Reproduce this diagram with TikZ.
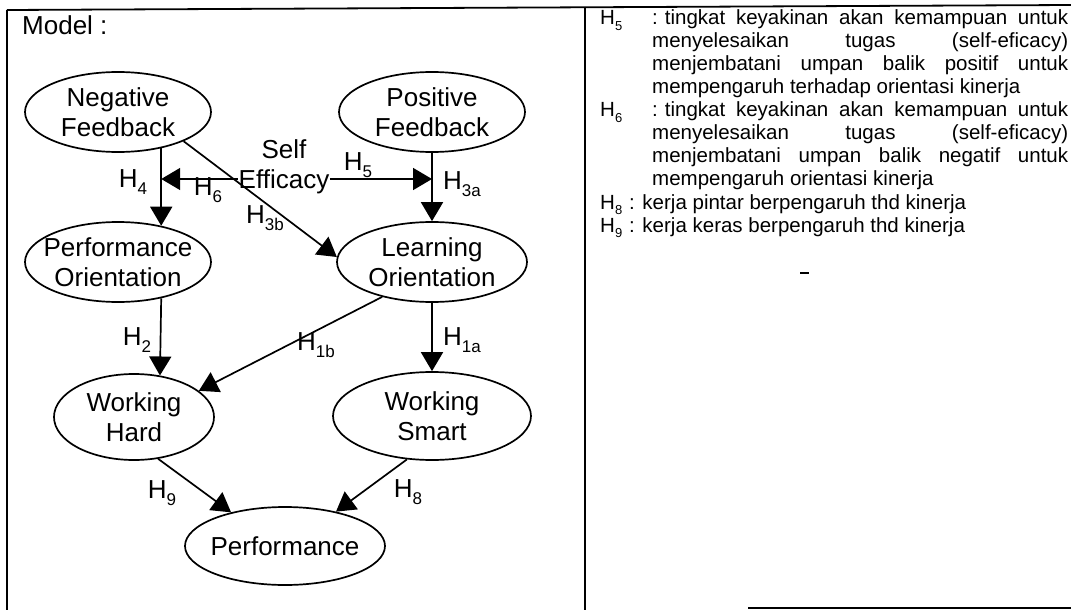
\documentclass[tikz,border=0pt]{standalone}
\usepackage{fontspec}
\setmainfont{Liberation Sans}
\usetikzlibrary{arrows.meta,shapes.geometric}
% hypothesis labels: H with a lowered index
\newcommand\hlab[1]{H\raisebox{-0.28em}{\fontsize{17}{17}\selectfont #1}}
\newcommand\hsm[1]{H\raisebox{-0.25em}{\fontsize{13}{13}\selectfont #1}}
% a justified line of the legend
\newcommand\jl[1]{\makebox[416pt][s]{#1}}
\begin{document}
\begin{tikzpicture}[x=1pt,y=-1pt,
  ell/.style={draw, ellipse, line width=1.7pt, inner sep=0pt},
  big/.style={font=\fontsize{26}{30}\selectfont, align=center, inner sep=0pt},
  hl/.style={font=\fontsize{26}{30}\selectfont, inner sep=0pt},
  arr/.style={line width=1.7pt, -{Triangle[length=19pt,width=22pt]}},
  rt/.style={font=\fontsize{20.5}{23}\selectfont, inner sep=0pt, anchor=base west},
  frame/.style={line width=1.8pt}]
\useasboundingbox (0,0) rectangle (1071,610);

% table frame
\draw[frame] (7,10) -- (1071,5);
\draw[frame] (7,10) -- (7,610);
\draw[frame, line width=2.4pt] (585,7) -- (585,610);
\draw[frame] (748,608) -- (1071,608);

\node[hl, anchor=west] (title) at (22,25) {Model :};

% constructs
\node[ell, minimum width=186pt, minimum height=80pt,
      label={[big]center:{Negative\\Feedback}}] (NF) at (118,112) {};
\node[ell, minimum width=186pt, minimum height=80pt,
      label={[big]center:{Positive\\Feedback}}] (PF) at (432,112) {};
\node[ell, minimum width=186pt, minimum height=80pt,
      label={[big]center:{Performance\\Orientation}}] (PO) at (118,262) {};
\node[ell, minimum width=190pt, minimum height=80pt,
      label={[big]center:{Learning\\Orientation}}] (LO) at (432,262) {};
\node[ell, minimum width=160pt, minimum height=86pt,
      label={[big]center:{Working\\Hard}}] (WH) at (134,417) {};
\node[ell, minimum width=198pt, minimum height=88pt,
      label={[big]center:{Working\\Smart}}] (WS) at (432,416) {};
\node[ell, minimum width=200pt, minimum height=78pt,
      label={[big]center:{Performance}}] (Perf) at (285,546) {};

\node[big, inner sep=1pt] (se) at (284,167) {Self\\Efficacy};
\coordinate (lvl) at (0,179);

% paths
\draw[arr] (NF.-40.6) -- (PO.40.6);
\draw[arr] (PF.south) -- (LO.north);
\draw[arr] (se.west |- lvl) -- (NF.-40.6 |- lvl);
\draw[arr] (se.east |- lvl) -- (PF.south |- lvl);
\draw[arr] (NF.-24) -- (LO.177);
\draw[arr] (PO.-40.6) -- (WH.58.4);
\draw[arr] (LO.-145) -- (WH.22);
\draw[arr] (LO.south) -- (WS.north);
\draw[arr] (WH.-60) -- (Perf.148);
\draw[arr] (WS.-120) -- (Perf.34);

% path labels
\node[hl] (h4) at (133,182) {\hlab{4}};
\node[hl] (h6) at (208,190) {\hlab{6}};
\node[hl] (h5) at (358,165) {\hlab{5}};
\node[hl] (h3a) at (462,184) {\hlab{3a}};
\node[hl] (h3b) at (265,218) {\hlab{3b}};
\node[hl] (h2) at (137,340) {\hlab{2}};
\node[hl] (h1b) at (316,345) {\hlab{1b}};
\node[hl] (h1a) at (462,340) {\hlab{1a}};
\node[hl] (h9) at (162,493) {\hlab{9}};
\node[hl] (h8) at (408,492) {\hlab{8}};

% legend
\node[rt] (k5) at (600,25) {\hsm{5}};
\node[rt] (t5) at (652,25) {\parbox[t]{416pt}{%
  \jl{:\hspace{7pt}tingkat keyakinan akan kemampuan untuk}\\
  \jl{menyelesaikan tugas (self-eficacy)}\\
  \jl{menjembatani umpan balik positif untuk}\\
  mempengaruh terhadap orientasi kinerja}};
\node[rt] (k6) at (600,117) {\hsm{6}};
\node[rt] (t6) at (652,117) {\parbox[t]{416pt}{%
  \jl{:\hspace{7pt}tingkat keyakinan akan kemampuan untuk}\\
  \jl{menyelesaikan tugas (self-eficacy)}\\
  \jl{menjembatani umpan balik negatif untuk}\\
  mempengaruh orientasi kinerja}};
\node[rt] (k8) at (600,209) {\hsm{8}};
\node[rt] (t8) at (629,209) {: kerja pintar berpengaruh thd kinerja};
\node[rt] (k9) at (600,232) {\hsm{9}};
\node[rt] (t9) at (629,232) {: kerja keras berpengaruh thd kinerja};

\draw[line width=1.5pt] (800,273) -- (809,273);
\end{tikzpicture}
\end{document}
